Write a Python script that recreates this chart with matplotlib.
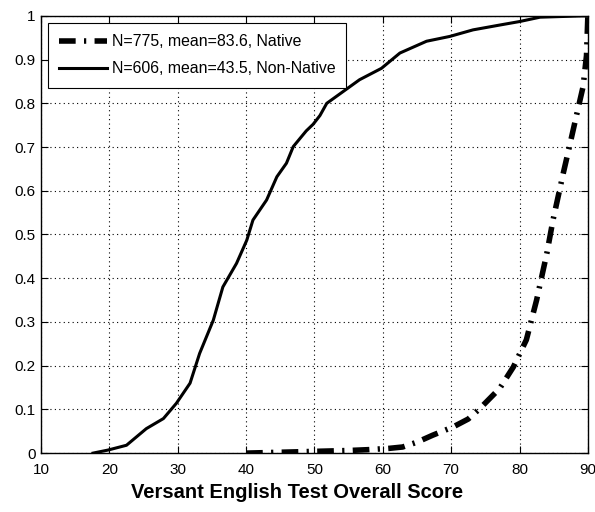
import matplotlib
matplotlib.use("Agg")
import matplotlib.pyplot as plt
import numpy as np

native_score = [40, 45, 50, 55, 58, 61, 62.9, 65, 67.3, 70.3, 72.5, 74.2, 77.1, 79.1,
                81.0, 82.5, 84.0, 84.9, 86.4, 87.3, 88.3, 89.3, 89.8, 90.0]
native_cdf = [0.0, 0.002, 0.004, 0.006, 0.008, 0.011, 0.014, 0.025, 0.041, 0.06, 0.078,
              0.102, 0.148, 0.197, 0.259, 0.35, 0.457, 0.533, 0.64, 0.701, 0.77,
              0.838, 0.909, 1.0]

nonnative_score = [17.6, 19.8, 22.5, 25.4, 27.9, 29.8, 31.8, 33.2, 35.2, 36.6, 38.6,
                   40.1, 41.0, 43.0, 44.5, 45.9, 46.9, 47.9, 48.8, 49.8, 50.8, 51.8,
                   54.2, 56.6, 59.8, 62.5, 66.4, 69.8, 73.2, 77.1, 80.0, 83.0, 89.2, 90.0]
nonnative_cdf = [0.0, 0.007, 0.018, 0.056, 0.079, 0.114, 0.16, 0.228, 0.304, 0.38,
                 0.434, 0.487, 0.533, 0.579, 0.632, 0.663, 0.701, 0.72, 0.737, 0.752,
                 0.772, 0.80, 0.827, 0.854, 0.88, 0.915, 0.942, 0.953, 0.968, 0.979,
                 0.987, 0.997, 1.0, 1.0]

labels = ["N=775, mean=83.6, Native", "N=606, mean=43.5, Non-Native"]

plt.rcParams['font.family'] = ['Liberation Sans', 'DejaVu Sans']

fig = plt.figure(figsize=(5.95, 5.12), dpi=100)
ax = fig.add_axes([0.069, 0.115, 0.919, 0.854])

ax.plot(native_score, native_cdf, color='k', lw=4,
        linestyle=(0, (3, 1.5, 0.4, 1.5)), label=labels[0])
ax.plot(nonnative_score, nonnative_cdf, color='k', lw=2.2, label=labels[1])

ax.set_xlim(10, 90)
ax.set_ylim(0, 1)
ax.set_xticks(np.arange(10, 91, 10))
ax.set_yticks(np.arange(0, 1.01, 0.1))
ax.set_yticklabels(['0', '0.1', '0.2', '0.3', '0.4', '0.5', '0.6', '0.7', '0.8', '0.9', '1'])
ax.tick_params(direction='in', top=True, right=True, labelsize=11, length=5)
ax.tick_params(axis='x', pad=7)
ax.tick_params(axis='y', pad=4)
ax.grid(True, color='k', linestyle=(0, (1, 3)), linewidth=0.8)
for s in ax.spines.values():
    s.set_linewidth(1)

# x label is centred on the figure, not the axes
fig.text(0.5, 0.027, "Versant English Test Overall Score", fontsize=14.5,
         fontweight='bold', ha='center', va='baseline')

leg = ax.legend(loc='upper left', fontsize=11.4, fancybox=False, framealpha=1,
                edgecolor='k', handlelength=3.0, borderaxespad=0.45, borderpad=0.7,
                handletextpad=0.3, labelspacing=0.78)
leg.get_frame().set_linewidth(0.8)

fig.savefig("out.png", dpi=100)
